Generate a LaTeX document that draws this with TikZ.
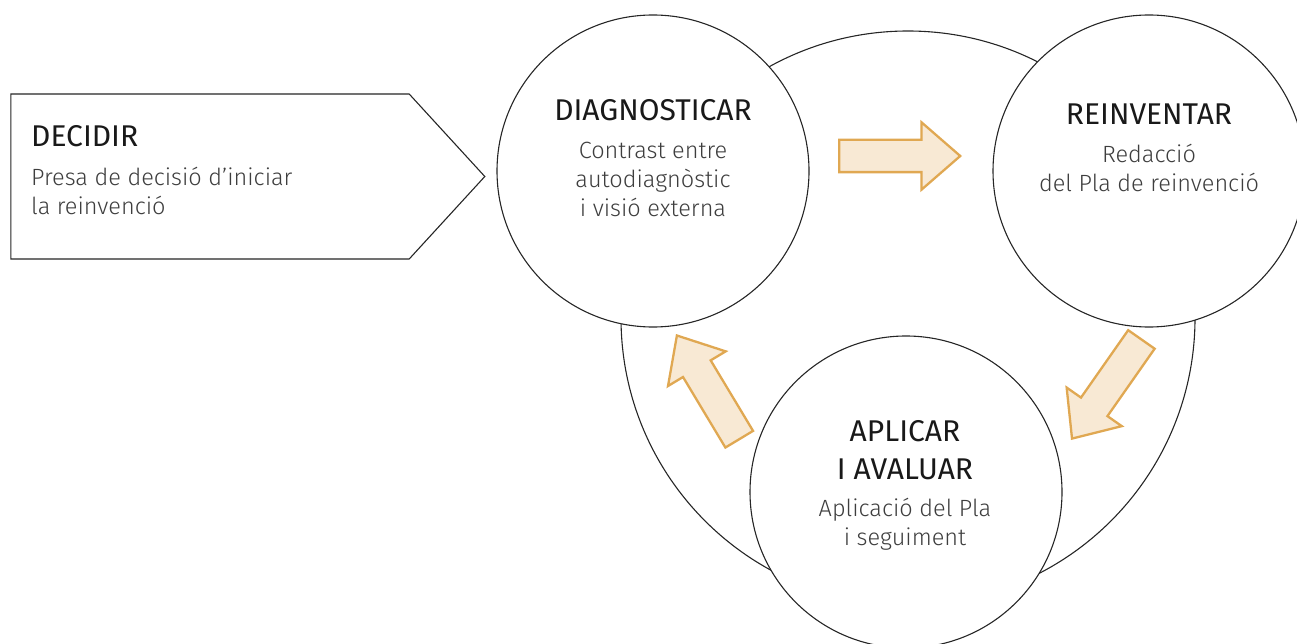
\documentclass[tikz,border=0pt]{standalone}
\usepackage{fontspec}
\setmainfont{Fira Sans Light}
\newfontfamily\headfont{Fira Sans}
\usetikzlibrary{shapes.arrows, shapes.symbols, positioning}
\definecolor{cycleorange}{RGB}{224,168,82}
\definecolor{cyclecream}{RGB}{248,233,212}
\definecolor{inkgray}{RGB}{62,62,62}

\begin{document}
\begin{tikzpicture}[x=1pt, y=-1pt,
  stage/.style={circle, draw=black!85, line width=1.1pt, fill=white, minimum size=312pt, inner sep=0pt},
  ttl/.style={font=\headfont\fontsize{30}{38}\selectfont, text=black!90, align=center, anchor=base, inner sep=0pt},
  txt/.style={font=\fontsize{23.5}{29}\selectfont, text=inkgray, align=center, anchor=base, inner sep=0pt},
  turn/.style={single arrow, draw=cycleorange, fill=cyclecream, line width=2.3pt, minimum height=121pt, inner xsep=0pt, inner ysep=15pt, single arrow head extend=17.5pt, single arrow tip angle=82, anchor=tip}]

  \useasboundingbox (0,0) rectangle (1297,644);

  \node[circle, draw=black!85, line width=1.1pt, minimum size=574pt, inner sep=0pt] (cycle) at (908,318) {};
  \node[stage] (diag) at (653,171) {};
  \node[stage] (rein) at (1149,171) {};
  \node[stage] (apl) at (906,492) {};

  \node[signal, signal to=east, signal pointer angle=95, draw=black!85, line width=1.1pt, fill=white, minimum width=474pt, minimum height=165pt, inner sep=0pt] (decide) at (210,176.5) {};

  % texts, multi-line nodes sit on their last baseline
  \node[ttl, anchor=base west] (decideT) at (31,147) {DECIDIR};
  \node[txt, align=left, anchor=base west] (decideB) at ([yshift=-68pt]decideT.base west) {Presa de decisió d’iniciar\\la reinvenció};

  \node[ttl] (diagT) at ([yshift=50pt]diag.center) {DIAGNOSTICAR};
  \node[txt] (diagB) at ([yshift=-96pt]diagT.base) {Contrast entre\\autodiagnòstic\\i visió externa};

  \node[ttl] (reinT) at ([yshift=46pt]rein.center) {REINVENTAR};
  \node[txt] (reinB) at ([yshift=-67pt]reinT.base) {Redacció\\del Pla de reinvenció};

  \node[ttl] (aplT) at ([yshift=13pt,xshift=-1pt]apl.center) {APLICAR\\I AVALUAR};
  \node[txt] (aplB) at ([yshift=-66pt]aplT.base) {Aplicació del Pla\\i seguiment};

  \node[turn] (toRein) at (962,156) {};
  \node[turn, rotate=235] (toApl) at (1071,440) {};
  \node[turn, rotate=121] (toDiag) at (676,334) {};
\end{tikzpicture}
\end{document}
